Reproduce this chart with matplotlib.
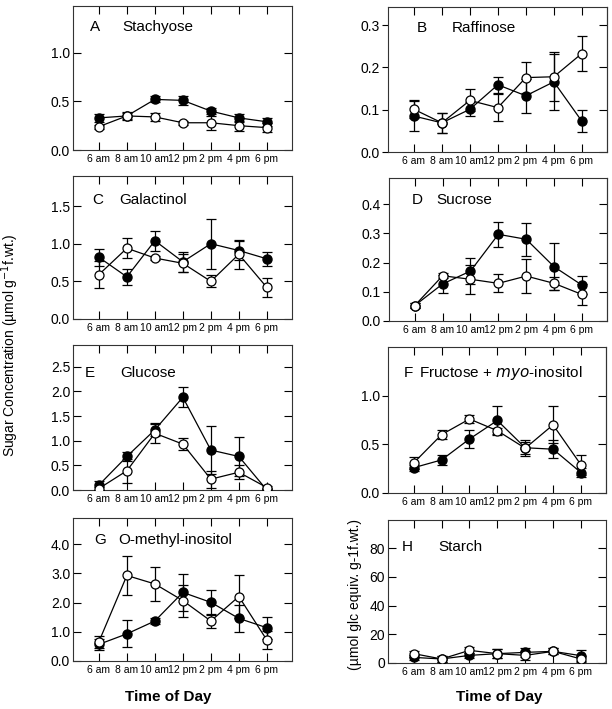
import matplotlib
matplotlib.use("Agg")
import matplotlib.pyplot as plt
import numpy as np

plt.rcParams['font.family'] = ['Liberation Sans', 'DejaVu Sans']

hours = [6, 8, 10, 12, 14, 16, 18]
time_labels = ['6 am', '8 am', '10 am', '12 pm', '2 pm', '4 pm', '6 pm']

# A Stachyose
stach_fill = [0.33, 0.35, 0.52, 0.51, 0.40, 0.33, 0.29]
stach_fill_err = [0.04, 0.03, 0.03, 0.05, 0.03, 0.04, 0.04]
stach_open = [0.24, 0.35, 0.34, 0.28, 0.28, 0.25, 0.23]
stach_open_err = [0.02, 0.04, 0.045, 0.02, 0.07, 0.05, 0.05]
# B Raffinose
raff_fill = [0.085, 0.069, 0.101, 0.159, 0.133, 0.166, 0.073]
raff_fill_err = [0.035, 0.024, 0.017, 0.019, 0.04, 0.066, 0.026]
raff_open = [0.101, 0.069, 0.122, 0.105, 0.176, 0.178, 0.233]
raff_open_err = [0.021, 0.024, 0.026, 0.032, 0.036, 0.058, 0.042]
# C Galactinol
gal_fill = [0.82, 0.56, 1.04, 0.76, 1.00, 0.91, 0.80]
gal_fill_err = [0.11, 0.11, 0.13, 0.13, 0.33, 0.13, 0.09]
gal_open = [0.59, 0.94, 0.81, 0.74, 0.50, 0.86, 0.42]
gal_open_err = [0.18, 0.13, 0.03, 0.12, 0.08, 0.19, 0.13]
# D Sucrose
suc_fill = [0.053, 0.127, 0.171, 0.297, 0.280, 0.186, 0.123]
suc_fill_err = [0.01, 0.03, 0.044, 0.042, 0.057, 0.08, 0.031]
suc_open = [0.053, 0.155, 0.143, 0.129, 0.154, 0.129, 0.091]
suc_open_err = [0.01, 0.008, 0.05, 0.031, 0.058, 0.023, 0.036]
# E Glucose
glu_fill = [0.10, 0.68, 1.22, 1.88, 0.81, 0.68, 0.00]
glu_fill_err = [0.09, 0.10, 0.13, 0.20, 0.49, 0.40, 0.05]
glu_open = [0.03, 0.39, 1.15, 0.93, 0.22, 0.36, 0.05]
glu_open_err = [0.03, 0.24, 0.19, 0.12, 0.17, 0.14, 0.03]
# F Fructose + myo-inositol
fru_fill = [0.26, 0.34, 0.555, 0.745, 0.465, 0.45, 0.21]
fru_fill_err = [0.03, 0.05, 0.095, 0.145, 0.08, 0.095, 0.05]
fru_open = [0.31, 0.60, 0.76, 0.64, 0.46, 0.70, 0.29]
fru_open_err = [0.06, 0.05, 0.045, 0.03, 0.06, 0.19, 0.10]
# G O-methyl-inositol
ome_fill = [0.57, 0.93, 1.37, 2.35, 2.01, 1.46, 1.14]
ome_fill_err = [0.19, 0.46, 0.10, 0.63, 0.42, 0.47, 0.38]
ome_open = [0.66, 2.93, 2.64, 2.07, 1.37, 2.21, 0.72]
ome_open_err = [0.20, 0.68, 0.59, 0.55, 0.25, 0.74, 0.32]
# H Starch
sta_fill = [3.9, 2.8, 5.3, 6.5, 7.4, 8.1, 5.1]
sta_fill_err = [2.0, 2.0, 2.0, 3.0, 3.0, 2.0, 3.7]
sta_open = [6.5, 2.8, 8.8, 6.5, 5.3, 8.1, 2.8]
sta_open_err = [2.0, 2.0, 2.0, 3.0, 3.0, 2.0, 2.0]

W, H = 612, 709
fig = plt.figure(figsize=(W / 100, H / 100), dpi=100)

def box(l, r, t, b):
    return [l / W, (H - b) / H, (r - l) / W, (b - t) / H]

panels = [
    # letter, name, rect, ylim, yticks, labels, fill, err, open, err, left-inward, letter x, name x, text y
    ('A', 'Stachyose', box(73, 292, 6, 150), 1.48, [0, 0.5, 1.0], ['0.0', '0.5', '1.0'],
     stach_fill, stach_fill_err, stach_open, stach_open_err, True, 0.078, 0.224, 0.854),
    ('B', 'Raffinose', box(388, 607, 7, 152), 0.343, [0, 0.1, 0.2, 0.3], ['0.0', '0.1', '0.2', '0.3'],
     raff_fill, raff_fill_err, raff_open, raff_open_err, False, 0.13, 0.29, 0.855),
    ('C', 'Galactinol', box(73, 292, 176, 319), 1.9, [0, 0.5, 1.0, 1.5], ['0.0', '0.5', '1.0', '1.5'],
     gal_fill, gal_fill_err, gal_open, gal_open_err, True, 0.087, 0.21, 0.83),
    ('D', 'Sucrose', box(389, 607, 178, 321), 0.49, [0, 0.1, 0.2, 0.3, 0.4], ['0.0', '0.1', '0.2', '0.3', '0.4'],
     suc_fill, suc_fill_err, suc_open, suc_open_err, False, 0.105, 0.216, 0.846),
    ('E', 'Glucose', box(73, 292, 345, 490), 2.94, [0, 0.5, 1.0, 1.5, 2.0, 2.5], ['0.0', '0.5', '1.0', '1.5', '2.0', '2.5'],
     glu_fill, glu_fill_err, glu_open, glu_open_err, True, 0.055, 0.215, 0.81),
    ('F', 'Fructose + $\\it{myo}$-inositol', box(388, 606, 347, 493), 1.5, [0, 0.5, 1.0], ['0.0', '0.5', '1.0'],
     fru_fill, fru_fill_err, fru_open, fru_open_err, False, 0.07, 0.142, 0.82),
    ('G', 'O-methyl-inositol', box(73, 292, 518, 661), 4.9, [0, 1, 2, 3, 4], ['0.0', '1.0', '2.0', '3.0', '4.0'],
     ome_fill, ome_fill_err, ome_open, ome_open_err, True, 0.096, 0.205, 0.846),
    ('H', 'Starch', box(388, 606, 520, 663), 99.5, [0, 20, 40, 60, 80], ['0', '20', '40', '60', '80'],
     sta_fill, sta_fill_err, sta_open, sta_open_err, True, 0.064, 0.23, 0.81),
]

for (letter, name, rect, ytop, yt, ytl, fv, fe, ov, oe, inward,
     lx, nx, ty) in panels:
    ax = fig.add_axes(rect)
    ax.errorbar(hours, fv, yerr=fe, fmt='-o', color='black', mfc='black', mec='black',
                ms=6.5, lw=0.9, elinewidth=0.9, capsize=3.5, capthick=0.9, zorder=3)
    ax.errorbar(hours, ov, yerr=oe, fmt='-o', color='black', mfc='white', mec='black',
                ms=6.5, lw=0.9, elinewidth=0.9, capsize=3.5, capthick=0.9, mew=0.9, zorder=4)
    ax.set_xlim(4.15, 19.8)
    ax.set_ylim(0, ytop)
    ax.set_xticks(hours)
    ax.set_xticklabels(time_labels, fontsize=7.5)
    ax.set_yticks(yt)
    ax.set_yticklabels(ytl, fontsize=10)
    ax.tick_params(axis='x', direction='in', top=True, length=6, width=0.8, pad=3)
    if inward:
        ax.tick_params(axis='y', direction='in', right=True, length=6, width=0.8, pad=2)
    else:
        ax.tick_params(axis='y', direction='out', right=False, length=4, width=0.8, pad=2)
        sec = ax.secondary_yaxis('right')
        sec.set_yticks(yt)
        sec.tick_params(direction='in', length=6, width=0.8, labelright=False)
        sec.spines['right'].set_linewidth(0.8)
        sec.spines['right'].set_color('#333333')
    for s in ax.spines.values():
        s.set_linewidth(0.8)
        s.set_color('#333333')
    ax.text(lx, ty, letter, transform=ax.transAxes, fontsize=11, va='center', ha='left')
    ax.text(nx, ty, name, transform=ax.transAxes, fontsize=11, va='center', ha='left')

fig.text(168 / W, 1 - 697 / H, 'Time of Day', fontsize=11, fontweight='bold',
         ha='center', va='center')
fig.text(499 / W, 1 - 697 / H, 'Time of Day', fontsize=11, fontweight='bold',
         ha='center', va='center')

fig.text(10 / W, 1 - 345 / H, 'Sugar Concentration (µmol g$^{-1}$f.wt.)', rotation=90,
         fontsize=10, ha='center', va='center')
fig.text(355 / W, 1 - 595 / H, '(µmol glc equiv. g-1f.wt.)', rotation=90,
         fontsize=10, ha='center', va='center')

fig.savefig('out.png', dpi=100)
